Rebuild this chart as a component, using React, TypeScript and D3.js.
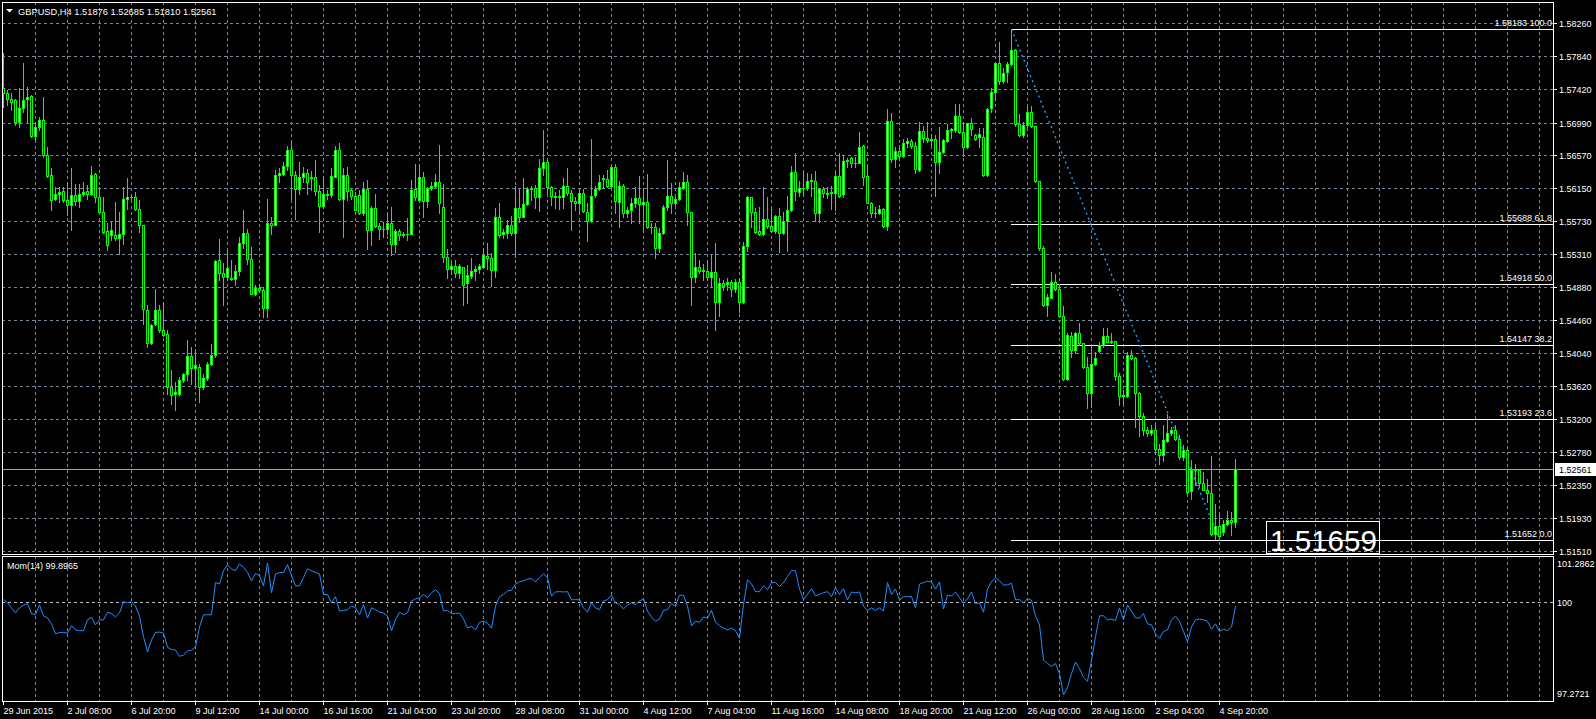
import React from 'react';
import * as d3 from 'd3';

// GBPUSD H4 candles (oldest first)
const opens = [
  1.57427,1.57363,1.57286,1.57277,1.56991,1.57171,1.57286,1.57329,1.56821,1.56927,
  1.57021,1.56581,1.56317,1.56013,1.56082,1.56112,1.56005,1.55941,1.56060,1.55984,
  1.56082,1.56112,1.56082,1.56330,1.56031,1.55847,1.55604,1.55557,1.55557,1.55518,
  1.55569,1.56013,1.56031,1.56039,1.55890,1.55676,1.54587,1.54169,1.54416,1.54587,
  1.54331,1.54280,1.53605,1.53511,1.53511,1.53691,1.53767,1.53998,1.53853,1.53861,
  1.53605,1.53725,1.53904,1.54011,1.55228,1.55066,1.55014,1.55001,1.54989,1.55087,
  1.55454,1.55582,1.55249,1.54801,1.54878,1.54852,1.54621,1.55710,1.55685,1.56325,
  1.56338,1.56432,1.56645,1.56325,1.56146,1.56295,1.56347,1.56282,1.56295,1.56116,
  1.55920,1.56073,1.56060,1.56295,1.56637,1.56018,1.56325,1.56124,1.56052,1.56060,
  1.55834,1.56146,1.55621,1.55902,1.55668,1.55633,1.55633,1.55710,1.55433,1.55604,
  1.55548,1.55569,1.55569,1.56139,1.55998,1.56297,1.55989,1.56147,1.56181,1.56233,
  1.55904,1.55264,1.55115,1.55153,1.55059,1.55136,1.54931,1.55029,1.55093,1.55110,
  1.55145,1.55285,1.55251,1.55102,1.55776,1.55563,1.55580,1.55678,1.55571,1.55891,
  1.55785,1.55942,1.56134,1.56147,1.56032,1.56403,1.56489,1.56160,1.56049,1.56032,
  1.56032,1.56173,1.56083,1.55989,1.55955,1.56083,1.55840,1.55729,1.56062,1.56139,
  1.56262,1.56262,1.56181,1.56416,1.55977,1.56181,1.55827,1.55870,1.55964,1.56019,
  1.55942,1.55968,1.55657,1.55648,1.55379,1.55571,1.55913,1.56053,1.55955,1.56006,
  1.56147,1.56233,1.55849,1.55016,1.55145,1.55089,1.55093,1.55016,1.55080,1.54696,
  1.54931,1.54918,1.54944,1.54859,1.54944,1.54696,1.55413,1.56032,1.55849,1.55601,
  1.55563,1.55750,1.55665,1.55601,1.55797,1.55580,1.55729,1.55870,1.56361,1.56105,
  1.56156,1.56156,1.56245,1.56245,1.55827,1.56134,1.56083,1.56083,1.56083,1.56305,
  1.56075,1.56501,1.56531,1.56467,1.56476,1.56689,1.56305,1.55964,1.55836,1.55827,
  1.55878,1.55669,1.57013,1.56518,1.56629,1.56565,1.56723,1.56753,1.56689,1.56382,
  1.56885,1.56787,1.56766,1.56779,1.56480,1.56617,1.56757,1.56894,1.56894,1.57077,
  1.56864,1.56681,1.56979,1.56830,1.56800,1.56800,1.56318,1.57171,1.57385,1.57747,
  1.57521,1.57641,1.57734,1.57918,1.56966,1.56830,1.56958,1.57120,1.56945,1.56237,
  1.55388,1.54654,1.54748,1.54952,1.54854,1.54517,1.53706,1.54257,1.54078,1.54291,
  1.54163,1.53864,1.53531,1.53894,1.54065,1.54142,1.54257,1.54184,1.54193,1.53745,
  1.53493,1.53493,1.54014,1.53971,1.53523,1.53237,1.53062,1.53011,1.53062,1.52819,
  1.52742,1.52917,1.53011,1.53062,1.52947,1.52712,1.52798,1.52273,1.52542,1.52542,
  1.52380,1.52294,1.52251,1.51731,1.51829,1.51752,1.51859,1.51902,1.51876,
];
const highs = [
  1.57875,1.57405,1.57371,1.57286,1.57427,1.57756,1.57440,1.57337,1.57000,1.57055,
  1.57320,1.56680,1.56402,1.56167,1.56167,1.56167,1.56231,1.56402,1.56210,1.56210,
  1.56231,1.56189,1.56432,1.56347,1.56167,1.56039,1.55706,1.55719,1.55967,1.55847,
  1.56167,1.56282,1.56073,1.56103,1.55996,1.55676,1.54651,1.54416,1.54865,1.54651,
  1.54694,1.54331,1.53827,1.53669,1.53733,1.53785,1.54203,1.54118,1.54096,1.53904,
  1.53776,1.53925,1.54152,1.55228,1.55505,1.55194,1.55364,1.55228,1.55164,1.55527,
  1.55877,1.55633,1.55399,1.54908,1.54929,1.54886,1.56018,1.55783,1.56381,1.56402,
  1.56487,1.56688,1.56756,1.56372,1.56479,1.56423,1.56394,1.56372,1.56509,1.56189,
  1.56295,1.56124,1.56402,1.56688,1.56731,1.56402,1.56423,1.56146,1.56103,1.56124,
  1.56231,1.56261,1.55920,1.56073,1.55706,1.55719,1.55834,1.55911,1.55633,1.55633,
  1.55591,1.55774,1.56253,1.56454,1.56454,1.56352,1.56169,1.56233,1.56326,1.56702,
  1.56203,1.55366,1.55209,1.55230,1.55179,1.55136,1.55166,1.55251,1.55153,1.55179,
  1.55379,1.55443,1.55315,1.55891,1.55955,1.55627,1.55742,1.55793,1.56177,1.56139,
  1.56275,1.56169,1.56177,1.56190,1.56518,1.56894,1.56510,1.56177,1.56105,1.56126,
  1.56275,1.56403,1.56126,1.56032,1.56139,1.56139,1.55955,1.56775,1.56177,1.56318,
  1.56318,1.56382,1.56446,1.56454,1.56241,1.56203,1.55913,1.56019,1.56169,1.56305,
  1.56147,1.56326,1.55699,1.55699,1.55635,1.55934,1.56510,1.56211,1.56032,1.56233,
  1.56361,1.56318,1.55849,1.55315,1.55230,1.55179,1.55230,1.55294,1.55443,1.54995,
  1.54974,1.54995,1.54974,1.54982,1.54995,1.55465,1.56049,1.56032,1.55891,1.55904,
  1.56160,1.56032,1.55878,1.55806,1.55891,1.55849,1.56049,1.56433,1.56595,1.56241,
  1.56373,1.56339,1.56326,1.56369,1.56147,1.56169,1.56169,1.56177,1.56373,1.56595,
  1.56574,1.56531,1.56552,1.56552,1.56873,1.56702,1.56446,1.55976,1.55904,1.55934,
  1.55891,1.57158,1.57107,1.56681,1.56702,1.56774,1.56787,1.56774,1.56745,1.57001,
  1.56945,1.57001,1.56843,1.56830,1.56937,1.56779,1.56971,1.56915,1.57222,1.57227,
  1.56979,1.56988,1.57043,1.56838,1.56915,1.56915,1.57171,1.57427,1.57756,1.58025,
  1.57683,1.57769,1.58183,1.57927,1.57099,1.57001,1.57184,1.57201,1.56945,1.56237,
  1.55409,1.54795,1.55072,1.55051,1.54918,1.54641,1.54300,1.54312,1.54312,1.54419,
  1.54172,1.53992,1.54142,1.54056,1.54184,1.54355,1.54355,1.54291,1.54197,1.53779,
  1.53566,1.54056,1.54078,1.53992,1.53544,1.53276,1.53096,1.53118,1.53130,1.52883,
  1.53118,1.53258,1.53096,1.53118,1.52990,1.52862,1.52819,1.52678,1.52618,1.52563,
  1.52520,1.52435,1.52721,1.52115,1.51995,1.51902,1.52017,1.52008,1.52685,
];
const lows = [
  1.57192,1.57213,1.57149,1.56957,1.56927,1.57128,1.57000,1.56808,1.56744,1.56893,
  1.56551,1.56295,1.55868,1.55996,1.55975,1.55975,1.55804,1.55612,1.55932,1.55911,
  1.56048,1.56018,1.56060,1.55975,1.55847,1.55578,1.55364,1.55493,1.55493,1.55313,
  1.55433,1.55890,1.55996,1.55868,1.55591,1.54416,1.54118,1.54152,1.54395,1.54310,
  1.54254,1.53520,1.53383,1.53315,1.53498,1.53669,1.53691,1.53648,1.53627,1.53413,
  1.53584,1.53691,1.53883,1.53989,1.54972,1.54651,1.54972,1.54972,1.54908,1.55036,
  1.55390,1.55185,1.54792,1.54779,1.54843,1.54502,1.54502,1.55561,1.55676,1.56231,
  1.56317,1.56381,1.56018,1.55762,1.56082,1.56231,1.56082,1.56124,1.56060,1.55591,
  1.55911,1.56018,1.56039,1.56287,1.56005,1.55527,1.55996,1.56018,1.55868,1.55826,
  1.55804,1.55377,1.55420,1.55655,1.55505,1.55527,1.55569,1.55292,1.55335,1.55484,
  1.55527,1.55493,1.55561,1.55998,1.55977,1.55785,1.55913,1.56126,1.56169,1.55827,
  1.55209,1.54995,1.55059,1.55016,1.54995,1.54654,1.54684,1.54995,1.54974,1.55068,
  1.55123,1.55110,1.54897,1.55016,1.55520,1.55507,1.55507,1.55550,1.55273,1.55721,
  1.55776,1.55934,1.55998,1.55891,1.55861,1.56318,1.56092,1.55934,1.55891,1.55878,
  1.55891,1.56062,1.55614,1.55870,1.55849,1.55849,1.55477,1.55721,1.56032,1.56126,
  1.56147,1.56169,1.56160,1.55827,1.55648,1.55776,1.55785,1.55699,1.55913,1.55699,
  1.55593,1.55635,1.55571,1.55251,1.55337,1.55563,1.55870,1.55827,1.55934,1.55998,
  1.56139,1.55678,1.54654,1.54953,1.55059,1.54974,1.54974,1.54888,1.54334,1.54513,
  1.54846,1.54846,1.54769,1.54824,1.54568,1.54675,1.55349,1.55657,1.55571,1.55550,
  1.55550,1.55635,1.55593,1.55571,1.55337,1.55563,1.55349,1.55857,1.55998,1.56049,
  1.56049,1.56126,1.56049,1.55729,1.55721,1.56041,1.56019,1.55878,1.55870,1.56032,
  1.56040,1.56425,1.56425,1.56425,1.56467,1.56190,1.55955,1.55776,1.55784,1.55819,
  1.55648,1.55614,1.56489,1.56425,1.56510,1.56552,1.56681,1.56659,1.56348,1.56373,
  1.56745,1.56745,1.56702,1.56049,1.56348,1.56595,1.56745,1.56787,1.56873,1.56851,
  1.56561,1.56659,1.56830,1.56766,1.56681,1.56305,1.56305,1.57129,1.57278,1.57483,
  1.57500,1.57513,1.57726,1.56945,1.56817,1.56809,1.56937,1.56937,1.56233,1.55358,
  1.54641,1.54513,1.54739,1.54846,1.54504,1.53694,1.53694,1.53984,1.54035,1.54142,
  1.53843,1.53339,1.53352,1.53886,1.54056,1.54120,1.54184,1.54172,1.53694,1.53374,
  1.53395,1.53480,1.53958,1.53096,1.52977,1.52990,1.52977,1.52990,1.52755,1.52627,
  1.52661,1.52904,1.52990,1.52934,1.52691,1.52670,1.52251,1.52179,1.52349,1.52328,
  1.52286,1.52136,1.51709,1.51665,1.51652,1.51709,1.51838,1.51709,1.51810,
];
const closes = [
  1.57363,1.57286,1.57256,1.56991,1.57171,1.57277,1.57320,1.56821,1.56927,1.57021,
  1.56573,1.56308,1.56005,1.56082,1.56103,1.55996,1.55941,1.56060,1.55984,1.56082,
  1.56103,1.56082,1.56325,1.56031,1.55847,1.55591,1.55420,1.55612,1.55514,1.55569,
  1.56018,1.56031,1.56039,1.55890,1.55676,1.54600,1.54169,1.54404,1.54587,1.54331,
  1.54267,1.53605,1.53498,1.53541,1.53691,1.53767,1.53998,1.53853,1.53883,1.53605,
  1.53725,1.53904,1.54011,1.55215,1.55066,1.55014,1.55130,1.54989,1.55087,1.55454,
  1.55582,1.55249,1.54801,1.54878,1.54852,1.54621,1.55710,1.55685,1.56325,1.56347,
  1.56432,1.56645,1.56325,1.56146,1.56295,1.56347,1.56231,1.56295,1.56116,1.55920,
  1.56073,1.56060,1.56304,1.56637,1.56018,1.56317,1.56116,1.56052,1.55877,1.55834,
  1.56146,1.55621,1.55902,1.55668,1.55633,1.55629,1.55710,1.55433,1.55604,1.55548,
  1.55569,1.55565,1.56133,1.56041,1.56297,1.55989,1.56156,1.56181,1.56233,1.55955,
  1.55264,1.55115,1.55153,1.55059,1.55153,1.54910,1.55038,1.55093,1.55115,1.55153,
  1.55294,1.55251,1.55102,1.55776,1.55550,1.55593,1.55678,1.55580,1.55891,1.55785,
  1.55942,1.56139,1.56156,1.56032,1.56403,1.56489,1.56160,1.56049,1.56041,1.56049,
  1.56173,1.56083,1.55989,1.55955,1.56083,1.55857,1.55729,1.56053,1.56139,1.56224,
  1.56284,1.56181,1.56416,1.55989,1.56181,1.55827,1.55870,1.55964,1.56019,1.55942,
  1.55968,1.55657,1.55648,1.55379,1.55571,1.55913,1.56053,1.55955,1.56006,1.56160,
  1.56233,1.55849,1.55016,1.55145,1.55089,1.55098,1.55016,1.55080,1.54696,1.54931,
  1.54901,1.54944,1.54859,1.54944,1.54696,1.55413,1.56032,1.55849,1.55593,1.55563,
  1.55750,1.55665,1.55601,1.55797,1.55580,1.55729,1.55870,1.56361,1.56113,1.56156,
  1.56147,1.56245,1.56254,1.55827,1.56134,1.56083,1.56079,1.56104,1.56305,1.56053,
  1.56501,1.56510,1.56467,1.56476,1.56672,1.56297,1.55964,1.55836,1.55827,1.55878,
  1.55669,1.57013,1.56518,1.56629,1.56565,1.56723,1.56753,1.56689,1.56390,1.56885,
  1.56787,1.56766,1.56779,1.56480,1.56617,1.56766,1.56894,1.56902,1.57077,1.56864,
  1.56681,1.56979,1.56902,1.56779,1.56838,1.56318,1.57158,1.57376,1.57747,1.57521,
  1.57628,1.57734,1.57918,1.56966,1.56830,1.56958,1.57120,1.56945,1.56245,1.55388,
  1.54654,1.54752,1.54952,1.54854,1.54517,1.53706,1.54270,1.54078,1.54291,1.54163,
  1.53864,1.53523,1.53894,1.53971,1.54142,1.54257,1.54184,1.54197,1.53745,1.53489,
  1.53502,1.54014,1.53971,1.53523,1.53237,1.53062,1.53011,1.53062,1.52819,1.52742,
  1.52926,1.53011,1.53062,1.52947,1.52704,1.52806,1.52264,1.52542,1.52550,1.52380,
  1.52294,1.52251,1.51731,1.51829,1.51697,1.51859,1.51902,1.51876,1.52561,
];

// Momentum(14), one value per candle
const momentum = [
  100.08,99.99,99.85,99.71,99.85,99.92,99.97,99.69,99.66,99.93,
  99.63,99.57,99.41,99.13,99.17,99.17,99.15,99.36,99.24,99.22,
  99.22,99.52,99.59,99.38,99.52,99.52,99.73,99.69,99.60,99.71,
  100.02,99.99,100.02,99.90,99.62,99.05,98.63,98.96,99.17,99.18,
  99.15,98.76,98.70,98.68,98.51,98.54,98.66,98.68,98.77,99.32,
  99.66,99.66,99.66,100.55,100.51,100.88,101.04,100.93,100.88,101.07,
  100.97,100.83,100.60,100.80,100.74,100.46,101.09,100.27,100.79,100.83,
  100.83,101.05,100.74,100.46,100.46,100.69,100.93,100.88,100.83,100.79,
  100.22,100.22,99.99,100.16,99.76,99.78,99.80,99.90,99.85,99.66,
  99.94,99.57,99.85,99.80,99.73,99.71,99.63,99.22,99.52,99.73,
  99.66,99.71,100.04,100.10,100.13,100.22,100.13,100.27,100.35,100.25,
  99.76,99.78,99.69,99.69,99.71,99.54,99.29,99.34,99.24,99.45,
  99.48,99.43,99.29,99.90,100.16,100.22,100.32,100.34,100.51,100.57,
  100.60,100.65,100.66,100.57,100.69,100.79,100.69,100.18,100.29,100.30,
  100.29,100.30,100.07,100.08,100.07,99.85,99.73,99.99,99.85,99.80,
  100.04,100.08,100.20,99.99,99.94,99.82,99.93,99.99,99.94,100.04,
  100.10,99.76,99.60,99.48,99.54,99.78,99.80,99.97,99.90,100.20,
  100.20,99.90,99.35,99.48,99.45,99.60,99.57,99.78,99.45,99.36,
  99.29,99.24,99.29,99.22,99.01,99.94,100.63,100.51,100.30,100.30,
  100.46,100.35,100.55,100.55,100.44,100.55,100.72,100.88,100.88,100.37,
  100.08,100.22,100.38,100.18,100.22,100.27,100.30,100.16,100.41,100.22,
  100.38,100.07,100.29,100.27,100.29,99.90,99.78,99.85,99.78,99.85,
  99.76,100.55,100.22,100.37,100.07,100.16,100.16,100.16,99.85,100.51,
  100.55,100.59,100.57,100.37,100.57,99.82,100.20,100.18,100.29,100.13,
  99.97,100.10,100.29,99.97,99.99,99.73,100.37,100.57,100.69,100.60,
  100.48,100.49,100.53,100.07,100.08,99.99,100.11,100.06,99.63,99.38,
  98.40,98.31,98.23,98.31,98.03,97.44,97.65,98.03,98.35,98.17,
  97.93,97.82,98.40,99.05,99.63,99.63,99.52,99.54,99.50,99.85,
  99.52,99.93,99.76,99.57,99.57,99.69,99.41,99.38,99.13,99.01,
  99.20,99.24,99.52,99.62,99.48,99.20,98.91,99.32,99.52,99.54,
  99.52,99.48,99.26,99.41,99.20,99.26,99.22,99.32,99.8965,
];

const priceTicks = [1.5826, 1.5784, 1.5742, 1.5699, 1.5657, 1.5615, 1.5573, 1.5531, 1.5488,
  1.5446, 1.5404, 1.5362, 1.5320, 1.5278, 1.5235, 1.5193, 1.5151];
const momTicks = [101.2862, 100, 97.2721];
const timeLabels = ['29 Jun 2015', '2 Jul 08:00', '6 Jul 20:00', '9 Jul 12:00', '14 Jul 00:00',
  '16 Jul 16:00', '21 Jul 04:00', '23 Jul 20:00', '28 Jul 08:00', '31 Jul 00:00', '4 Aug 12:00',
  '7 Aug 04:00', '11 Aug 16:00', '14 Aug 08:00', '18 Aug 20:00', '21 Aug 12:00', '26 Aug 00:00',
  '28 Aug 16:00', '2 Sep 04:00', '4 Sep 20:00'];
const fibLevels = ['100.0', '61.8', '50.0', '38.2', '23.6', '0.0'];
const fibPrices = [1.58183, 1.55688, 1.54918, 1.54147, 1.53193, 1.51652];
const fibFrom = 252; // candle of the swing high
const fibTo = 304;   // candle of the swing low
const bidPrice = 1.52561;
const bigLabel = '1.51659';
const header = 'GBPUSD,H4  1.51876 1.52685 1.51810 1.52561';
const momTitle = 'Mom(14) 99.8965';

const W = 1596, H = 719;
const LEFT = 2, RIGHT = 1553;
const MAIN_TOP = 2, MAIN_BOTTOM = 554;
const SUB_TOP = 556, SUB_BOTTOM = 701;
const FONT = "Tahoma, 'Liberation Sans', Arial, sans-serif";
const GRID = '#778899';
const BULL = '#00ff00';

export default function App() {
  const n = closes.length;
  const x = d3.scaleLinear().domain([0, n - 1]).range([3, 3 + 4 * (n - 1)]);
  const y = d3.scaleLinear().domain([1.5151, 1.5826]).range([550.8, 23.3]);
  const ym = d3.scaleLinear().domain([97.2721, 101.2862]).range([SUB_BOTTOM, SUB_TOP]);
  const py = (v: number) => Math.round(y(v));

  const vGrid = d3.range(8, n + 80, 8).map(i => x(i)).filter(v => v < RIGHT - 2);
  const labelIdx = timeLabels.map((_, k) => k * 16);

  const momLine = d3.line<number>()
    .x((_, i) => x(i) + 0.5)
    .y(d => ym(d))(momentum) || '';

  const bidY = py(bidPrice) + 0.5;

  return (
    <svg width={W} height={H} style={{ position: 'fixed', left: 0, top: 0, background: '#000' }}
      fontFamily={FONT}>
      <rect x={0} y={0} width={W} height={H} fill="#000" />

      {/* grid */}
      <g stroke={GRID} strokeDasharray="3,3" shapeRendering="crispEdges">
        {priceTicks.map(t => (
          <line key={'h' + t} x1={LEFT} x2={RIGHT} y1={py(t) + 0.5} y2={py(t) + 0.5} />
        ))}
        {vGrid.map(v => (
          <g key={'v' + v}>
            <line x1={v + 0.5} x2={v + 0.5} y1={MAIN_TOP} y2={MAIN_BOTTOM} />
            <line x1={v + 0.5} x2={v + 0.5} y1={SUB_TOP} y2={SUB_BOTTOM} />
          </g>
        ))}
        <line x1={LEFT} x2={RIGHT} y1={Math.round(ym(100)) + 0.5} y2={Math.round(ym(100)) + 0.5}
          stroke="#c0c0c0" />
      </g>

      {/* fibonacci levels */}
      <g shapeRendering="crispEdges">
        {fibPrices.map((p, k) => (
          <g key={'f' + k}>
            <line x1={x(fibFrom)} x2={RIGHT} y1={py(p) + 0.5} y2={py(p) + 0.5} stroke="#fff" />
            <text x={RIGHT - 1} y={py(p) - 3} fill="#fff" fontSize={9} textAnchor="end">
              {p.toFixed(5)} {fibLevels[k]}
            </text>
          </g>
        ))}
      </g>
      <line x1={x(fibFrom) + 0.5} y1={y(fibPrices[0])} x2={x(fibTo) + 0.5} y2={y(fibPrices[5])}
        stroke="#1ea0ff" strokeWidth={1.4} strokeDasharray="2,3.5" />

      {/* bid line */}
      <line x1={LEFT} x2={RIGHT} y1={bidY} y2={bidY} stroke="#a0a0a0" shapeRendering="crispEdges" />

      {/* candles */}
      <g shapeRendering="crispEdges">
        {closes.map((c, i) => {
          const o = opens[i];
          const cx = x(i);
          const hiY = py(Math.max(highs[i], o, c));
          const loY = py(Math.min(lows[i], o, c));
          const top = py(Math.max(o, c));
          const bot = py(Math.min(o, c));
          const h = bot - top + 1;
          return (
            <g key={i}>
              <rect x={cx} y={hiY} width={1} height={loY - hiY + 1} fill={BULL} />
              <rect x={cx - 1} y={top} width={3} height={h} fill={BULL} />
              {h > 2 && (
                <rect x={cx} y={top + 1} width={1} height={h - 2} fill={c > o ? '#fff' : '#000'} />
              )}
            </g>
          );
        })}
      </g>

      {/* big price label */}
      <rect x={1266.5} y={521.5} width={113} height={32} fill="none" stroke="#fff" shapeRendering="crispEdges" />
      <text x={1270} y={551} fill="#fff" fontSize={30} textLength={107} lengthAdjust="spacingAndGlyphs">
        {bigLabel}
      </text>

      {/* momentum */}
      <path d={momLine} fill="none" stroke="#1e90ff" strokeWidth={1} />

      {/* panel frames */}
      <g fill="none" stroke="#fff" shapeRendering="crispEdges">
        <rect x={LEFT + 0.5} y={MAIN_TOP + 0.5} width={RIGHT - LEFT} height={MAIN_BOTTOM - MAIN_TOP} />
        <rect x={LEFT + 0.5} y={SUB_TOP + 0.5} width={RIGHT - LEFT} height={SUB_BOTTOM - SUB_TOP} />
      </g>

      {/* price axis */}
      <g fontSize={9} fill="#fff">
        {priceTicks.map(t => (
          <g key={'pt' + t}>
            <line x1={RIGHT} x2={RIGHT + 4} y1={py(t) + 0.5} y2={py(t) + 0.5} stroke="#fff"
              shapeRendering="crispEdges" />
            <text x={RIGHT + 6} y={py(t) + 3.5}>{t.toFixed(5)}</text>
          </g>
        ))}
        <rect x={RIGHT + 2} y={bidY - 6.5} width={W - RIGHT - 2} height={13} fill="#fff" />
        <text x={RIGHT + 6} y={bidY + 3.5} fill="#000">{bidPrice.toFixed(5)}</text>
        {momTicks.map((t, k) => (
          <text key={'mt' + t} x={RIGHT + 4}
            y={k === 0 ? SUB_TOP + 11 : k === 2 ? SUB_BOTTOM - 4 : ym(t) + 3.5}>
            {String(t)}
          </text>
        ))}
      </g>

      {/* time axis */}
      <g fontSize={9} fill="#fff">
        {labelIdx.map((i, k) => (
          <g key={'tl' + k}>
            <line x1={x(i) + 0.5} x2={x(i) + 0.5} y1={SUB_BOTTOM} y2={SUB_BOTTOM + 4} stroke="#fff"
              shapeRendering="crispEdges" />
            <text x={x(i) + 0.5} y={713.5}>{timeLabels[k]}</text>
          </g>
        ))}
      </g>

      {/* titles */}
      <polygon points="6,9 13,9 9.5,12.5" fill="#fff" />
      <text x={18} y={14.5} fontSize={9.3} fill="#fff">{header}</text>
      <text x={7} y={569} fontSize={9} fill="#fff">{momTitle}</text>
    </svg>
  );
}
